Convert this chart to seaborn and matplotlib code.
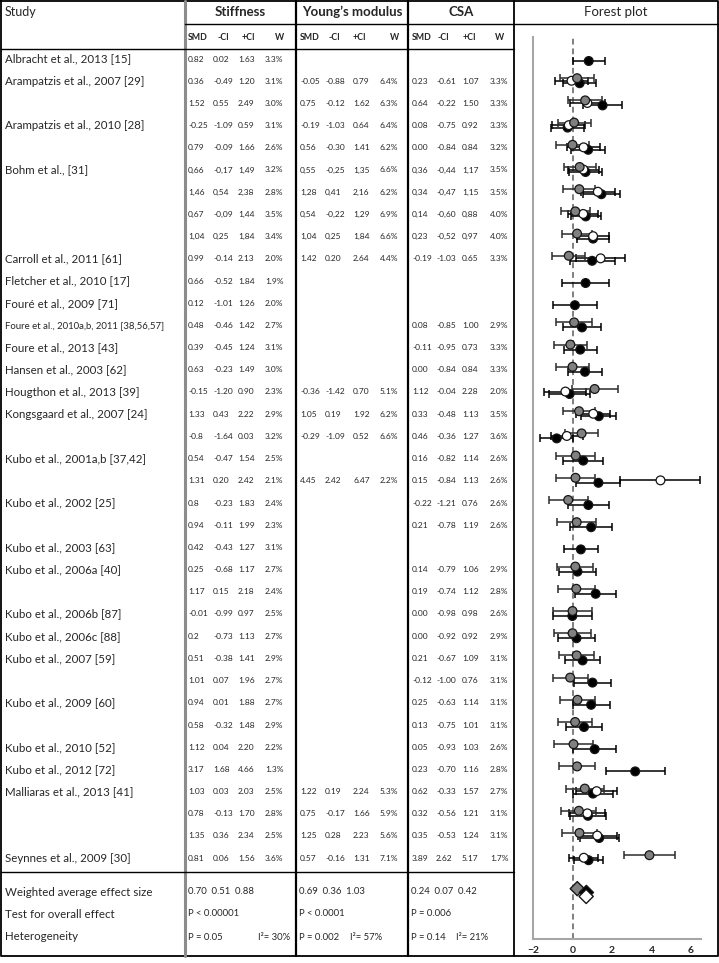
import pandas as pd
import matplotlib
matplotlib.use("Agg")
import matplotlib.pyplot as plt
import seaborn as sns

studies = ["Albracht et al., 2013 [15]", "Arampatzis et al., 2007 [29]", "", "Arampatzis et al., 2010 [28]", "",
           "Bohm et al., [31]", "", "", "", "Carroll et al., 2011 [61]", "Fletcher et al., 2010 [17]",
           "Fouré et al., 2009 [71]", "Foure et al., 2010a,b, 2011 [38,56,57]", "Foure et al., 2013 [43]",
           "Hansen et al., 2003 [62]", "Hougthon et al., 2013 [39]", "Kongsgaard et al., 2007 [24]", "",
           "Kubo et al., 2001a,b [37,42]", "", "Kubo et al., 2002 [25]", "", "Kubo et al., 2003 [63]",
           "Kubo et al., 2006a [40]", "", "Kubo et al., 2006b [87]", "Kubo et al., 2006c [88]",
           "Kubo et al., 2007 [59]", "", "Kubo et al., 2009 [60]", "", "Kubo et al., 2010 [52]",
           "Kubo et al., 2012 [72]", "Malliaras et al., 2013 [41]", "", "", "Seynnes et al., 2009 [30]"]

N = None
stiff_smd = ["0.82", "0.36", "1.52", "-0.25", "0.79", "0,66", "1,46", "0,67", "1,04", "0.99", "0.66", "0.12",
             "0.48", "0.39", "0.63", "-0.15", "1.33", "-0.8", "0.54", "1.31", "0.8", "0.94", "0.42", "0.25",
             "1.17", "-0.01", "0.2", "0.51", "1.01", "0.94", "0.58", "1.12", "3.17", "1.03", "0.78", "1.35", "0.81"]
stiff_lo = ["0.02", "-0.49", "0.55", "-1.09", "-0.09", "-0,17", "0,54", "-0,09", "0,25", "-0.14", "-0.52", "-1.01",
            "-0.46", "-0.45", "-0.23", "-1.20", "0.43", "-1.64", "-0.47", "0.20", "-0.23", "-0.11", "-0.43", "-0.68",
            "0.15", "-0.99", "-0.73", "-0.38", "0.07", "0.01", "-0.32", "0.04", "1.68", "0.03", "-0.13", "0.36", "0.06"]
stiff_hi = ["1.63", "1.20", "2.49", "0.59", "1.66", "1,49", "2,38", "1,44", "1,84", "2.13", "1.84", "1.26",
            "1.42", "1.24", "1.49", "0.90", "2.22", "0.03", "1.54", "2.42", "1.83", "1.99", "1.27", "1.17",
            "2.18", "0.97", "1.13", "1.41", "1.96", "1.88", "1.48", "2.20", "4.66", "2.03", "1.70", "2.34", "1.56"]
stiff_w = ["3.3%", "3.1%", "3.0%", "3.1%", "2.6%", "3.2%", "2.8%", "3.5%", "3.4%", "2.0%", "1.9%", "2.0%",
           "2.7%", "3.1%", "3.0%", "2.3%", "2.9%", "3.2%", "2.5%", "2.1%", "2.4%", "2.3%", "3.1%", "2.7%",
           "2.4%", "2.5%", "2.7%", "2.9%", "2.7%", "2.7%", "2.9%", "2.2%", "1.3%", "2.5%", "2.8%", "2.5%", "3.6%"]

ym_smd = [N, "-0.05", "0.75", "-0.19", "0.56", "0,55", "1,28", "0,54", "1,04", "1.42", N, N, N, N, N,
          "-0.36", "1.05", "-0.29", N, "4.45"] + [N] * 13 + ["1.22", "0.75", "1.25", "0.57"]
ym_lo = [N, "-0.88", "-0.12", "-1.03", "-0.30", "-0,25", "0,41", "-0,22", "0,25", "0.20", N, N, N, N, N,
         "-1.42", "0.19", "-1.09", N, "2.42"] + [N] * 13 + ["0.19", "-0.17", "0.28", "-0.16"]
ym_hi = [N, "0.79", "1.62", "0.64", "1.41", "1,35", "2,16", "1,29", "1,84", "2.64", N, N, N, N, N,
         "0.70", "1.92", "0.52", N, "6.47"] + [N] * 13 + ["2.24", "1.66", "2.23", "1.31"]
ym_w = [N, "6.4%", "6.3%", "6.4%", "6.2%", "6.6%", "6.2%", "6.9%", "6.6%", "4.4%", N, N, N, N, N,
        "5.1%", "6.2%", "6.6%", N, "2.2%"] + [N] * 13 + ["5.3%", "5.9%", "5.6%", "7.1%"]

csa_smd = [N, "0.23", "0.64", "0.08", "0.00", "0,36", "0,34", "0,14", "0,23", "-0.19", N, N, "0.08", "-0.11",
           "0.00", "1.12", "0.33", "0.46", "0.16", "0.15", "-0.22", "0.21", N, "0.14", "0.19", "0.00", "0.00",
           "0.21", "-0.12", "0.25", "0.13", "0.05", "0.23", "0.62", "0.32", "0.35", "3.89"]
csa_lo = [N, "-0.61", "-0.22", "-0.75", "-0.84", "-0,44", "-0,47", "-0,60", "-0,52", "-1.03", N, N, "-0.85",
          "-0.95", "-0.84", "-0.04", "-0.48", "-0.36", "-0.82", "-0.84", "-1.21", "-0.78", N, "-0.79", "-0.74",
          "-0.98", "-0.92", "-0.67", "-1.00", "-0.63", "-0.75", "-0.93", "-0.70", "-0.33", "-0.56", "-0.53", "2.62"]
csa_hi = [N, "1.07", "1.50", "0.92", "0.84", "1,17", "1,15", "0,88", "0,97", "0.65", N, N, "1.00", "0.73",
          "0.84", "2.28", "1.13", "1.27", "1.14", "1.13", "0.76", "1.19", N, "1.06", "1.12", "0.98", "0.92",
          "1.09", "0.76", "1.14", "1.01", "1.03", "1.16", "1.57", "1.21", "1.24", "5.17"]
csa_w = [N, "3.3%", "3.3%", "3.3%", "3.2%", "3.5%", "3.5%", "4.0%", "4.0%", "3.3%", N, N, "2.9%", "3.3%",
         "3.3%", "2.0%", "3.5%", "3.6%", "2.6%", "2.6%", "2.6%", "2.6%", N, "2.9%", "2.8%", "2.6%", "2.9%",
         "3.1%", "3.1%", "3.1%", "3.1%", "2.6%", "2.8%", "2.7%", "3.1%", "3.1%", "1.7%"]

measures = ["Stiffness", "Young’s modulus", "CSA"]
pooled_smd = [0.70, 0.69, 0.24]
pooled_lo = [0.51, 0.36, 0.07]
pooled_hi = [0.88, 1.03, 0.42]
overall_p = ["P < 0.00001", "P < 0.0001", "P = 0.006"]
het_p = ["P = 0.05", "P = 0.002", "P = 0.14"]
het_i2 = [30, 57, 21]

sns.set_style("white")
plt.rcParams["font.family"] = ["Lato", "DejaVu Sans"]

W, H = 719, 963
fig = plt.figure(figsize=(W / 100, H / 100), dpi=100)
tab = fig.add_axes([0, 0, 1, 1])
tab.set_xlim(0, W)
tab.set_ylim(H, 0)
tab.axis("off")

row0, step = 59, 22.2
def ypx(i):
    return row0 + step * i

def num(s):
    return float(s.replace(",", "."))

# table grid
lc = "black"
tab.plot([1, 718, 718, 1, 1], [1, 1, 956, 956, 1], color=lc, lw=1.3)
tab.plot([514, 514], [1, 956], color=lc, lw=1.3)
tab.plot([185, 185], [1, 956], color="#8c8c8c", lw=2.2)
tab.plot([296, 296], [1, 956], color=lc, lw=1.6)
tab.plot([408, 408], [1, 956], color=lc, lw=1.6)
tab.plot([185, 718], [24, 24], color=lc, lw=1.0)
tab.plot([1, 514], [49, 49], color=lc, lw=1.0)
tab.plot([1, 514], [872, 872], color=lc, lw=1.0)

tab.text(5, 12, "Study", fontsize=9, va="center")
tab.text(616, 12, "Forest plot", fontsize=9.5, va="center", ha="center")

sec_x = [185, 296, 408]
col_off = [[3, 28, 53, 80], [4, 29, 57, 84], [4, 28, 54, 82]]
sub_off = [[3, 38, 63, 95], [4, 38, 63, 99], [4, 35, 61, 92]]
blocks = [(stiff_smd, stiff_lo, stiff_hi, stiff_w), (ym_smd, ym_lo, ym_hi, ym_w),
          (csa_smd, csa_lo, csa_hi, csa_w)]
centers = [240, 352, 461]
for k, m in enumerate(measures):
    tab.text(centers[k], 12, m, fontsize=9.5, fontweight="bold", ha="center", va="center")
    for j, lab in enumerate(["SMD", "-CI", "+CI", "W"]):
        tab.text(sec_x[k] + sub_off[k][j], 38, lab, fontsize=6.3, fontweight="bold",
                 ha="left" if j == 0 else "center", va="center")
    for i in range(len(studies)):
        for j, col in enumerate(blocks[k]):
            if col[i] is not None:
                tab.text(sec_x[k] + col_off[k][j], ypx(i), col[i], fontsize=6.0, va="center")

for i, s in enumerate(studies):
    fs = 6.9 if len(s) > 30 else 8.3
    tab.text(5, ypx(i), s, fontsize=fs, va="center")

sum_y = [892, 914, 937]
for lab, y in zip(["Weighted average effect size", "Test for overall effect", "Heterogeneity"], sum_y):
    tab.text(5, y, lab, fontsize=8.3, va="center")
i2_off = [70, 51, 45]
for k in range(3):
    x0 = sec_x[k] + 3
    tab.text(x0, sum_y[0], f"{pooled_smd[k]:.2f}  {pooled_lo[k]:.2f}  {pooled_hi[k]:.2f}", fontsize=6.8, va="center")
    tab.text(x0, sum_y[1], overall_p[k], fontsize=6.8, va="center")
    tab.text(x0, sum_y[2], het_p[k], fontsize=6.8, va="center")
    tab.text(x0 + i2_off[k], sum_y[2], f"I²= {het_i2[k]}%", fontsize=6.8, va="center")

# forest plot
rows = []
for m, (smd, lo, hi, _) in zip(measures, blocks):
    for i in range(len(studies)):
        if smd[i] is not None:
            rows.append(dict(measure=m, row=i, smd=num(smd[i]), lo=num(lo[i]), hi=num(hi[i])))
df = pd.DataFrame(rows)
offset = {"Stiffness": 0.09, "Young’s modulus": -0.02, "CSA": -0.135}
df["ypos"] = df["row"] + df["measure"].map(offset)

ax = fig.add_axes([533 / W, (H - 939) / H, 168 / W, 902 / H])
ymax = (939 - row0) / step
ymin = (37 - row0) / step
ax.axvline(0, color="#7f7f7f", ls=(0, (3, 2)), lw=1.4, zorder=0)

ecol = {"Stiffness": "black", "Young’s modulus": "black", "CSA": "#2b2b2b"}
for m in measures:
    d = df[df["measure"] == m]
    ax.errorbar(d["smd"], d["ypos"], xerr=[d["smd"] - d["lo"], d["hi"] - d["smd"]], fmt="none",
                ecolor=ecol[m], elinewidth=1.1, capsize=2.6, capthick=1.1, zorder=2)

pal = {"Stiffness": "black", "Young’s modulus": "white", "CSA": "#808080"}
sns.scatterplot(data=df, x="smd", y="ypos", hue="measure", hue_order=measures, palette=pal,
                s=40, edgecolor="#151515", linewidth=0.9, legend=False, ax=ax, zorder=3)

sum_row = (sum_y[0] - row0) / step
dsum = pd.DataFrame(dict(measure=measures, smd=pooled_smd))
dsum["ypos"] = sum_row + dsum["measure"].map({"Stiffness": 0.02, "Young’s modulus": 0.2, "CSA": -0.15})
dsum = dsum.iloc[[2, 0, 1]]
sns.scatterplot(data=dsum, x="smd", y="ypos", hue="measure", hue_order=measures, palette=pal,
                marker="D", s=52, edgecolor="#151515", linewidth=1.0, legend=False, ax=ax, zorder=4)

ax.set_xlim(-2, 6.5)
ax.set_ylim(ymax, ymin)
ax.set_xticks([-2, 0, 2, 4, 6])
ax.set_yticks([])
ax.set_xlabel("")
ax.set_ylabel("")
sns.despine(ax=ax)
for sp in ["left", "bottom"]:
    ax.spines[sp].set_color("#a6a6a6")
    ax.spines[sp].set_linewidth(1.5)
ax.tick_params(axis="x", direction="out", length=3, color="#a6a6a6", labelsize=7.5, pad=2)
for t in ax.get_xticklabels():
    t.set_fontweight("bold")
ax.patch.set_alpha(0)

fig.savefig("out.png", dpi=100)
